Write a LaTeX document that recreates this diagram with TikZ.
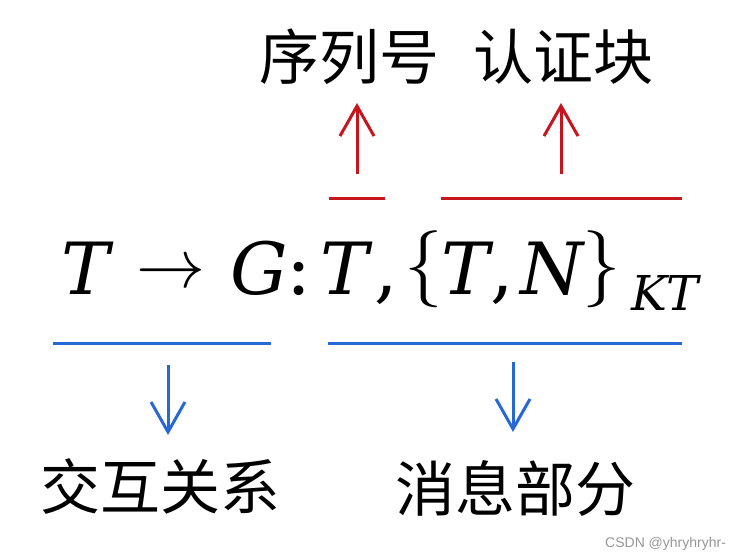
\RequirePackage{fix-cm}
\documentclass[tikz,border=0pt]{standalone}
\usepackage{fontspec}
\newfontfamily\cjk{Noto Sans CJK SC}
\newfontfamily\wmfont{Liberation Sans}
\newfontfamily\mitfont{DejaVu Serif}[ItalicFont={DejaVu Serif Italic}]
\usetikzlibrary{arrows.meta}
\definecolor{myred}{RGB}{196,22,28}
\definecolor{myblue}{RGB}{38,104,214}
\definecolor{wmgray}{RGB}{150,150,150}
\tikzset{
  redline/.style={draw=myred, line width=3pt},
  blueline/.style={draw=myblue, line width=3pt},
  redarrow/.style={draw=myred, line width=3pt, -{Straight Barb[length=30pt,width=34pt,line width=3pt]}},
  bluearrow/.style={draw=myblue, line width=3pt, -{Straight Barb[length=30pt,width=34pt,line width=3pt]}},
  cjklabel/.style={anchor=base, inner sep=0pt, font=\cjk\fontsize{60}{64}\selectfont},
  letter/.style={anchor=base, inner sep=0pt, font=\mitfont\itshape\fontsize{72}{76}\selectfont},
  sublet/.style={anchor=base, inner sep=0pt, font=\mitfont\itshape\fontsize{48}{52}\selectfont},
  punct/.style={anchor=base, inner sep=0pt, font=\mitfont\fontsize{74}{78}\selectfont},
  mathsym/.style={anchor=base, inner sep=0pt, font=\fontsize{#1}{#1}\selectfont},
}
\begin{document}
\begin{tikzpicture}[x=1pt, y=-1pt]
\useasboundingbox (0,0) rectangle (747,558);
% formula  T -> G: T, {T, N}_KT
\node[letter] (t1) at (86,294) {T};
\node[mathsym=69] (arr) at (171,287) {$\to$};
\node[letter] (g) at (259,294) {G};
\node[punct] (colon) at (299,294) {:};
\node[letter] (t2) at (345,294) {T};
\node[punct] (c1) at (386,294) {,};
\node[mathsym=77] (lb) at (424,288) {$\{$};
\node[letter] (t3) at (466,294) {T};
\node[punct] (c2) at (502,294) {,};
\node[letter] (n) at (552,294) {N};
\node[mathsym=77] (rb) at (602,288) {$\}$};
\node[sublet] (kt) at (665,310) {KT};
% red lines and arrows (top)
\coordinate (r1a) at (329,198); \coordinate (r1b) at (385,198);
\coordinate (r2a) at (441,198); \coordinate (r2b) at (682,198);
\draw[redline] (r1a) -- (r1b);
\draw[redline] (r2a) -- (r2b);
\node[cjklabel] (seq) at (349,79) {序列号};
\node[cjklabel] (auth) at (563,79) {认证块};
\coordinate (ra1s) at (357,174); \coordinate (ra1e) at (357,103);
\coordinate (ra2s) at (561,174); \coordinate (ra2e) at (561,103);
\draw[redarrow] (ra1s) -- (ra1e);
\draw[redarrow] (ra2s) -- (ra2e);
% blue lines and arrows (bottom)
\coordinate (b1a) at (53,343); \coordinate (b1b) at (271,343);
\coordinate (b2a) at (328,343); \coordinate (b2b) at (682,343);
\draw[blueline] (b1a) -- (b1b);
\draw[blueline] (b2a) -- (b2b);
\coordinate (ba1s) at (168,365); \coordinate (ba1e) at (168,435);
\coordinate (ba2s) at (513,362); \coordinate (ba2e) at (513,432);
\draw[bluearrow] (ba1s) -- (ba1e);
\draw[bluearrow] (ba2s) -- (ba2e);
\node[cjklabel] (inter) at (160,509) {交互关系};
\node[cjklabel] (msg) at (515,511) {消息部分};
% watermark
\node[anchor=base west, inner sep=0pt, text=wmgray, font=\wmfont\fontsize{14}{16}\selectfont] (wm) at (605,547) {CSDN @yhryhryhr-};
\end{tikzpicture}
\end{document}
